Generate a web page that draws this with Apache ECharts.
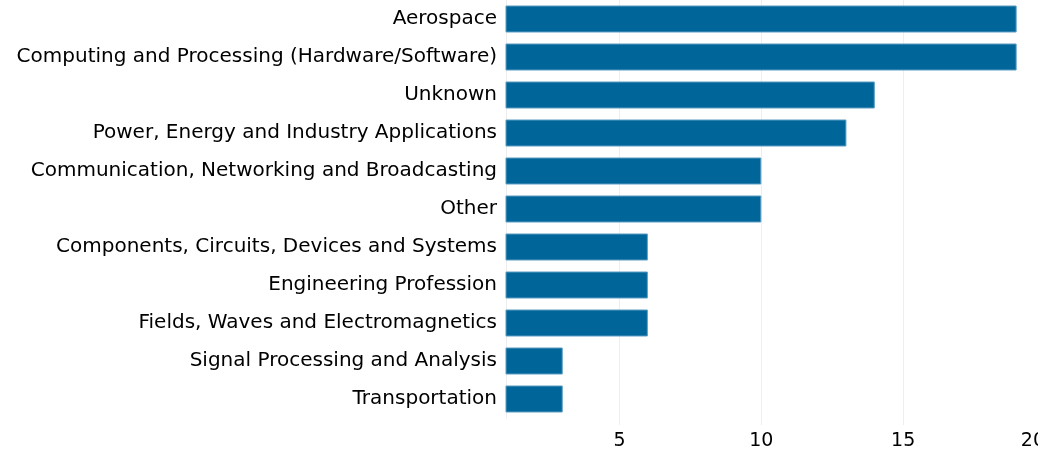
<!DOCTYPE html>
<html>
<head>
<meta charset="utf-8">
<script src="https://cdn.jsdelivr.net/npm/echarts@6/dist/echarts.min.js"></script>
<style>
  html, body { margin: 0; padding: 0; background: #fff; }
  #chart { width: 1038px; height: 451px; }
</style>
</head>
<body>
<div id="chart"></div>
<script>
// categories from top to bottom
var categories = [
    'Aerospace',
    'Computing and Processing (Hardware/Software)',
    'Unknown',
    'Power, Energy and Industry Applications',
    'Communication, Networking and Broadcasting',
    'Other',
    'Components, Circuits, Devices and Systems',
    'Engineering Profession',
    'Fields, Waves and Electromagnetics',
    'Signal Processing and Analysis',
    'Transportation'
];
var counts = [19, 19, 14, 13, 10, 10, 6, 6, 6, 3, 3];
var tickValues = [5, 10, 15, 20];

var myChart = echarts.init(document.getElementById('chart'));

var option = {
    animation: false,
    grid: {
        left: 506,
        right: -7,
        top: 0,
        bottom: 33,
        containLabel: false,
        outerBoundsMode: 'none'
    },
    xAxis: {
        type: 'value',
        min: 1,
        max: 20,
        interval: 1,
        axisLine: { show: false },
        axisTick: {
            show: true,
            length: 7,
            lineStyle: { color: '#eeeeee' },
            customValues: tickValues
        },
        splitLine: {
            show: true,
            lineStyle: { color: '#eeeeee' },
            customValues: tickValues
        },
        axisLabel: {
            customValues: tickValues,
            color: '#000',
            fontSize: 19,
            fontFamily: 'DejaVu Sans',
            margin: 14,
            alignMaxLabel: 'right'
        }
    },
    yAxis: {
        type: 'category',
        inverse: true,
        data: categories,
        axisLine: { show: true, lineStyle: { color: '#eeeeee' } },
        axisTick: { show: false },
        axisLabel: {
            color: '#000',
            fontSize: 20,
            fontFamily: 'DejaVu Sans',
            margin: 9
        }
    },
    series: [{
        type: 'bar',
        data: counts,
        barCategoryGap: '29%',
        itemStyle: {
            color: '#006699',
            borderColor: '#5a9cc2',
            borderWidth: 1
        }
    }]
};

myChart.setOption(option);
</script>
</body>
</html>
